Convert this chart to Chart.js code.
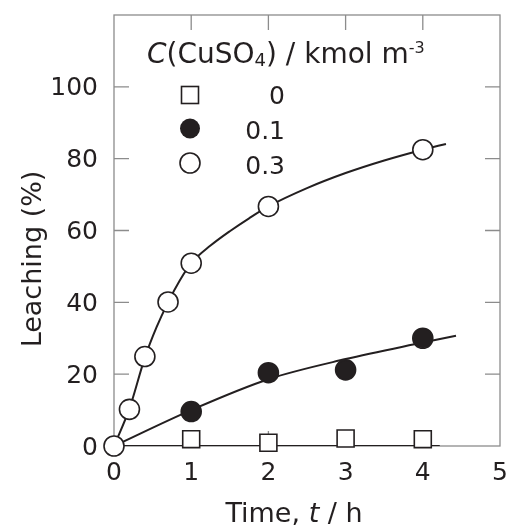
<!DOCTYPE html>
<html>
<head>
<meta charset="utf-8">
<title>Leaching vs time</title>
<script src="https://cdn.jsdelivr.net/npm/chart.js@4.4.0/dist/chart.umd.min.js"></script>
<style>
  html, body { margin: 0; padding: 0; background: #fff; }
</style>
</head>
<body>
<canvas id="leachChart" width="507" height="527"></canvas>
<script>
// measured points, leaching (%) vs time (h)
var time0 = [1, 2, 3, 4];
var leach0 = [1.9, 0.9, 2.1, 1.9];
var time01 = [1, 2, 3, 4];
var leach01 = [9.6, 20.4, 21.2, 30.0];
var time03 = [0, 0.2, 0.4, 0.7, 1, 2, 4];
var leach03 = [0, 10.2, 24.9, 40.1, 50.9, 66.7, 82.5];

// fitted curves
var fitTime0 = [0, 4.22];
var fitLeach0 = [0, 0];
var fitTime01 = [0, 1, 2, 3, 4, 4.43];
var fitLeach01 = [0, 10.0, 18.6, 24.2, 28.8, 30.7];
var fitTime03 = [0, 0.2, 0.4, 0.55, 0.7, 0.85, 1, 1.25, 1.5, 1.75, 2, 2.5, 3, 3.5, 4, 4.3];
var fitLeach03 = [0, 10.4, 24.6, 33, 40, 46, 50.9, 55.8, 59.8, 63.4, 66.7, 71.8, 76, 79.5, 82.5, 84.1];

var seriesLabels = ['0', '0.1', '0.3'];
var xTicks = [1, 2, 3, 4];
var yTicks = [20, 40, 60, 80, 100];

var FONT = 'DejaVu Sans';
var INK = '#231f20';

function pts(xs, ys) {
    return xs.map(function (x, i) { return { x: x, y: ys[i] }; });
}

// frame with inward ticks on all four sides
var framePlugin = {
    id: 'frame',
    beforeDatasetsDraw: function (chart) {
        var c = chart.ctx, a = chart.chartArea;
        var sx = chart.scales.x, sy = chart.scales.y;
        var t = 15;
        c.save();
        c.strokeStyle = '#8c8c8c';
        c.lineWidth = 1.3;
        c.strokeRect(a.left, a.top, a.right - a.left, a.bottom - a.top);
        c.beginPath();
        xTicks.forEach(function (v) {
            var px = sx.getPixelForValue(v);
            c.moveTo(px, a.top); c.lineTo(px, a.top + t);
            c.moveTo(px, a.bottom); c.lineTo(px, a.bottom - t);
        });
        yTicks.forEach(function (v) {
            var py = sy.getPixelForValue(v);
            c.moveTo(a.left, py); c.lineTo(a.left + t, py);
            c.moveTo(a.right, py); c.lineTo(a.right - t, py);
        });
        c.stroke();
        c.restore();
    }
};

// legend block and axis titles (mixed italic / sub / superscript)
var textPlugin = {
    id: 'texts',
    afterDraw: function (chart) {
        var c = chart.ctx;
        c.save();
        c.fillStyle = INK;
        c.textBaseline = 'alphabetic';

        // legend title: C(CuSO4) / kmol m-3
        var x = 147, base = 62.5;
        var parts = [
            { s: 'C', f: 'italic 28px ' + FONT, dy: 0 },
            { s: '(CuSO', f: '28px ' + FONT, dy: 0 },
            { s: '4', f: '18px ' + FONT, dy: 3 },
            { s: ') / kmol m', f: '28px ' + FONT, dy: 0 },
            { s: '-3', f: '16px ' + FONT, dy: -10 }
        ];
        c.textAlign = 'left';
        parts.forEach(function (p) {
            c.font = p.f;
            c.fillText(p.s, x, base + p.dy);
            x += c.measureText(p.s).width;
        });

        // legend rows
        c.strokeStyle = INK;
        c.lineWidth = 1.6;
        c.fillStyle = '#fff';
        c.fillRect(181.5, 86.5, 17, 17);
        c.strokeRect(181.5, 86.5, 17, 17);
        c.beginPath(); c.arc(190, 128.5, 10, 0, Math.PI * 2);
        c.fillStyle = INK; c.fill();
        c.beginPath(); c.arc(190, 163, 10, 0, Math.PI * 2);
        c.fillStyle = '#fff'; c.fill(); c.stroke();

        c.fillStyle = INK;
        c.font = '25px ' + FONT;
        c.textAlign = 'right';
        var rows = [104, 138.5, 173.5];
        seriesLabels.forEach(function (s, i) { c.fillText(s, 285, rows[i]); });

        // x title: Time, t / h
        var xt = [
            { s: 'Time, ', f: '27px ' + FONT },
            { s: 't', f: 'italic 27px ' + FONT },
            { s: ' / h', f: '27px ' + FONT }
        ];
        var w = 0;
        xt.forEach(function (p) { c.font = p.f; w += c.measureText(p.s).width; });
        var xx = 294 - w / 2;
        c.textAlign = 'left';
        xt.forEach(function (p) {
            c.font = p.f;
            c.fillText(p.s, xx, 522);
            xx += c.measureText(p.s).width;
        });

        // y title
        c.translate(41, 259);
        c.rotate(-Math.PI / 2);
        c.textAlign = 'center';
        c.font = '27px ' + FONT;
        c.fillText('Leaching (%)', 0, 0);
        c.restore();
    }
};

var lineStyle = {
    showLine: true, pointRadius: 0, borderColor: INK, borderWidth: 2,
    cubicInterpolationMode: 'monotone', order: 2
};

var ctx = document.getElementById('leachChart').getContext('2d');
var leachChart = new Chart(ctx, {
    type: 'scatter',
    data: {
        datasets: [
            Object.assign({ label: 'fit 0', data: pts(fitTime0, fitLeach0) }, lineStyle),
            Object.assign({ label: 'fit 0.1', data: pts(fitTime01, fitLeach01) }, lineStyle),
            Object.assign({ label: 'fit 0.3', data: pts(fitTime03, fitLeach03) }, lineStyle),
            {
                label: seriesLabels[0], data: pts(time0, leach0), order: 1, clip: false,
                pointStyle: 'rect', pointRadius: 12, pointBorderWidth: 1.6,
                backgroundColor: '#fff', borderColor: INK
            },
            {
                label: seriesLabels[1], data: pts(time01, leach01), order: 1, clip: false,
                pointStyle: 'circle', pointRadius: 10, pointBorderWidth: 1.6,
                backgroundColor: INK, borderColor: INK
            },
            {
                label: seriesLabels[2], data: pts(time03, leach03), order: 0, clip: false,
                pointStyle: 'circle', pointRadius: 10, pointBorderWidth: 1.6,
                backgroundColor: '#fff', borderColor: INK
            }
        ]
    },
    options: {
        responsive: false,
        animation: false,
        layout: { autoPadding: false, padding: { top: 15, right: 7, left: 0, bottom: 0 } },
        plugins: { legend: { display: false }, tooltip: { enabled: false } },
        scales: {
            x: {
                type: 'linear', min: 0, max: 5,
                grid: { display: false, drawTicks: false }, border: { display: false },
                ticks: { stepSize: 1, color: INK, font: { family: FONT, size: 25 }, padding: 12 },
                afterFit: function (s) {
                    s.height = 81;
                    s.paddingLeft = 0; s.paddingRight = 0;
                }
            },
            y: {
                min: 0, max: 120,
                grid: { display: false, drawTicks: false }, border: { display: false },
                ticks: {
                    stepSize: 20, color: INK, font: { family: FONT, size: 25 }, padding: 16,
                    labelOffset: 2,
                    callback: function (v) { return v > 100 ? '' : v; }
                },
                afterFit: function (s) {
                    s.width = 114;
                    s.paddingTop = 0; s.paddingBottom = 0;
                }
            }
        }
    },
    plugins: [framePlugin, textPlugin]
});
</script>
</body>
</html>
